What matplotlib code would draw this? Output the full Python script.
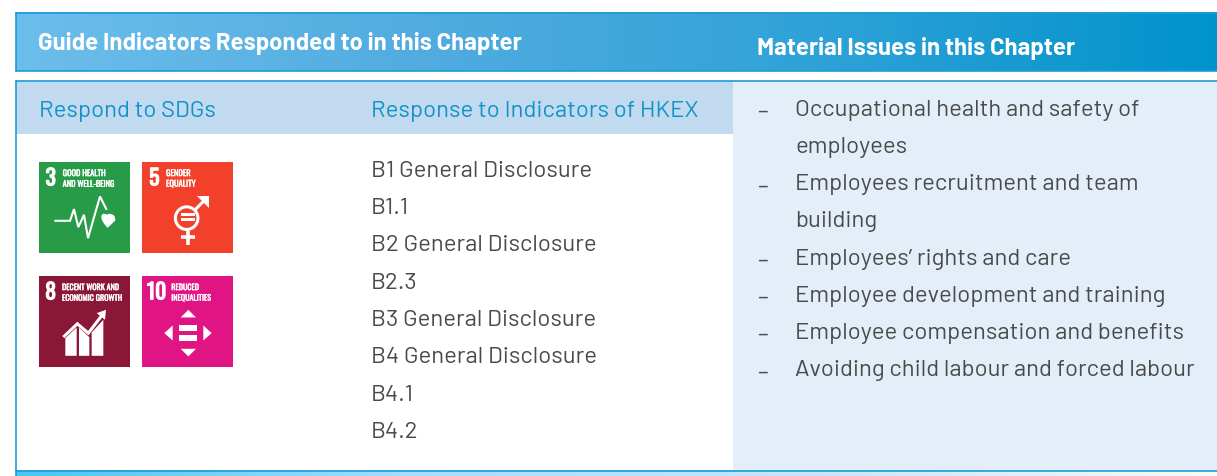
import numpy as np
import matplotlib
matplotlib.use("Agg")
import matplotlib.pyplot as plt
import matplotlib.patheffects as pe
from matplotlib.patches import Rectangle, Polygon, Circle, PathPatch
from matplotlib.path import Path
from matplotlib.colors import LinearSegmentedColormap as L
from matplotlib import font_manager as fm
import logging
logging.getLogger("matplotlib.font_manager").setLevel(logging.ERROR)

header_left = "Guide Indicators Responded to in this Chapter"
header_right = "Material Issues in this Chapter"
sub_heads = ["Respond to SDGs", "Response to Indicators of HKEX"]
indicators = ["B1 General Disclosure", "B1.1", "B2 General Disclosure", "B2.3",
              "B3 General Disclosure", "B4 General Disclosure", "B4.1", "B4.2"]
issues = [("–", "Occupational health and safety of"), ("", "employees"),
          ("–", "Employees recruitment and team"), ("", "building"),
          ("–", "Employees’ rights and care"), ("–", "Employee development and training"),
          ("–", "Employee compensation and benefits"), ("–", "Avoiding child labour and forced labour")]
sdg_num = ["3", "5", "8", "10"]
sdg_lines = [["GOOD HEALTH", "AND WELL-BEING"], ["GENDER", "EQUALITY"],
             ["DECENT WORK AND", "ECONOMIC GROWTH"], ["REDUCED", "INEQUALITIES"]]
sdg_col = ["#279B48", "#F2402B", "#8B1738", "#E11484"]

W, H = 1217, 477
fig = plt.figure(figsize=(W/100, H/100), dpi=100)
ax = fig.add_axes([0, 0, 1, 1])
ax.set_xlim(0, W); ax.set_ylim(H-0.8, -0.8); ax.axis("off")
have = {f.name for f in fm.fontManager.ttflist}
def pick(*names):
    return next(n for n in names if n in have)
FONT = pick("Barlow", "Roboto")
NARROW = pick("Oswald", "Barlow Condensed", "IBM Plex Sans Condensed", "Roboto")
BLUE = "#1E9BD7"; TXT = "#4A4A4A"; TITLE = "#0F93C8"
R = fig.canvas.get_renderer()

def fit(s, width, **kw):
    t = ax.text(0, 0, s, fontsize=10, **kw)
    w = t.get_window_extent(R).width
    t.remove()
    return 10*width/w

REG = fit(issues[-1][1], 401, family=FONT)
BOLD = fit(header_left, 483, family=FONT, fontweight="bold")

def grad(cols, x0, x1, y0, y1, z=1):
    cm = L.from_list("g", cols)
    ax.imshow(np.linspace(0, 1, 512)[None, :], cmap=cm, extent=[x0, x1, y1, y0],
              aspect="auto", zorder=z, interpolation="bilinear")

grad(["#6CBEEB", "#52ACE0", "#2FA2D8", "#0093CB"], 16, W, 13, 71.5)
ax.set_xlim(0, W); ax.set_ylim(H-0.8, -0.8)
for xs, ys in [([16, W], [13, 13]), ([16, W], [71.5, 71.5]), ([16, 16], [13, 71.5])]:
    ax.plot(xs, ys, color=BLUE, lw=1.2, zorder=2)
ax.add_patch(Rectangle((733, 81), W-733, 390, fc="#E3EEF8", ec="none", zorder=1))
ax.add_patch(Rectangle((16, 81), 717, 53, fc="#C2DAEF", ec="none", zorder=1))
grad(["#4CC4F2", "#A8DFF8", "#C4E8FB", "#F5FBFE"], 16, W, 471, 477)
ax.set_xlim(0, W); ax.set_ylim(H-0.8, -0.8)
for xs, ys in [([16, W], [80.7, 80.7]), ([16, W], [471, 471]), ([16, 16], [80.7, 477])]:
    ax.plot(xs, ys, color=BLUE, lw=1.2, zorder=2)

ax.text(38, 43, header_left, color="white", fontsize=BOLD, fontweight="bold", family=FONT, va="center", zorder=3)
ax.text(757, 47.5, header_right, color="white", fontsize=BOLD, fontweight="bold", family=FONT, va="center", zorder=3)
ax.text(39, 110.5, sub_heads[0], color=TITLE, fontsize=REG, family=FONT, va="center", zorder=3)
ax.text(371, 110.5, sub_heads[1], color=TITLE, fontsize=REG, family=FONT, va="center", zorder=3)
for i, s in enumerate(indicators):
    ax.text(371, 170.5+37.3*i, s, color=TXT, fontsize=REG, family=FONT, va="center", zorder=3)
for i, (d, s) in enumerate(issues):
    y = 109.5+37.2*i
    if d:
        ax.text(757, y+2, d, color=TXT, fontsize=REG, family=FONT, va="center", zorder=3)
    ax.text(795, y, s, color=TXT, fontsize=REG, family=FONT, va="center", zorder=3)

# SDG tiles
X = [39, 142, 39, 142]; Y = [162, 162, 276, 276]; S = 91
NUM_X = [11.7, 12.3, 11.7, 14.7]; LAB_X = [23.7, 24, 23, 29.3]; LAB_W = [43, 24.7, 57, 27.7]
for k, (n, ls, c, x, y) in enumerate(zip(sdg_num, sdg_lines, sdg_col, X, Y)):
    ax.add_patch(Rectangle((x, y), S, S, fc=c, ec="none", zorder=2))
    ax.text(x+NUM_X[k], y+16.5, n, color="white", fontsize=15.5, fontweight="bold",
            family=NARROW, ha="center", va="center", zorder=3,
            path_effects=[pe.withStroke(linewidth=0.9, foreground="white")])
    fs = fit(ls[0], LAB_W[k], family=NARROW)
    for txt, dy in zip(ls, (11.3, 22)):
        ax.text(x+LAB_X[k], y+dy, txt, color="white", fontsize=fs, family=NARROW, va="center", zorder=3,
                path_effects=[pe.withStroke(linewidth=0.25, foreground="white")])

def P(pts):
    return [(20+a/3, 150+b/3) for a, b in pts]
def poly(pts):
    ax.add_patch(Polygon(P(pts), fc="white", ec="none", zorder=3))
def line(pts, lw=1.8):
    xy = np.array(P(pts))
    ax.plot(xy[:, 0], xy[:, 1], color="white", lw=lw, zorder=3, solid_joinstyle="miter", solid_capstyle="butt")

# 3: pulse and heart
line([(103,213),(150,213),(162,178),(175,232),(192,195),(204,265),(240,140),(260,180)], 1.5)
hv = P([(263,234),(240,212),(240,192),(252,192),(263,192),(263,200),(263,192),(274,192),(286,192),(286,212),(263,234),(263,234)])
ax.add_patch(PathPatch(Path(hv, [Path.MOVETO]+[Path.CURVE4]*9+[Path.LINETO, Path.CLOSEPOLY]), fc="white", ec="none", zorder=3))
# 5: gender
cx, cy = P([(500,205)])[0]
ax.add_patch(Circle((cx, cy), 11.3, fc="none", ec="white", lw=2.2, zorder=3))
line([(523,182),(555,150)], 2.2)
poly([(532,140),(567,140),(567,175)])
line([(504,240),(504,285)], 2.6)
line([(483,262),(525,262)], 2.6)
poly([(483,190),(525,190),(525,199),(483,199)])
poly([(483,206),(525,206),(525,215),(483,215)])
# 8: growth
line([(130,562),(172,522),(205,550),(247,495)], 2.2)
poly([(230,490),(258,480),(255,510)])
poly([(136,565),(170,533),(170,618),(136,618)])
poly([(177,533),(208,562),(208,618),(177,618)])
poly([(215,548),(250,510),(250,618),(215,618)])
# 10: reduced inequalities
poly([(505,480),(482,503),(528,503)])
poly([(482,597),(528,597),(505,620)])
poly([(458,527),(458,572),(433,550)])
poly([(550,527),(550,572),(575,550)])
poly([(478,527),(530,527),(530,543),(478,543)])
poly([(478,557),(530,557),(530,573),(478,573)])

fig.savefig("out.png", dpi=100)
